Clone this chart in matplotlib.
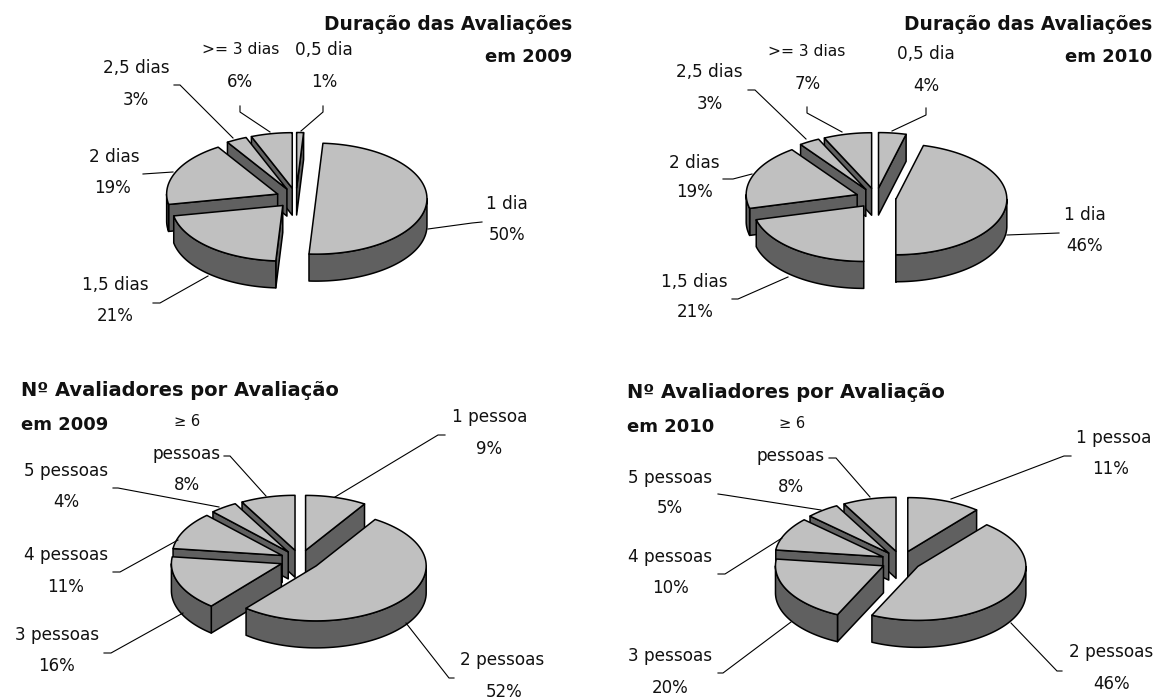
import matplotlib
matplotlib.use("Agg")
import matplotlib.pyplot as plt
import numpy as np

# chart values
dur_labels = ["0,5 dia", "1 dia", "1,5 dias", "2 dias", "2,5 dias", ">= 3 dias"]
dur_2009 = [1, 50, 21, 19, 3, 6]
dur_2010 = [4, 46, 21, 19, 3, 7]

ava_labels = ["1 pessoa", "2 pessoas", "3 pessoas", "4 pessoas", "5 pessoas", "pessoas"]
ava_2009 = [9, 52, 16, 11, 4, 8]
ava_2010 = [11, 46, 20, 10, 5, 8]

TOP = "#c0c0c0"
WALL = "#606060"
DEPTH, EXPLODE = 27, 20


def rim(cx, cy, rx, angles):
    # angles are clockwise from 12 o'clock, in radians
    return cx + rx * np.sin(angles), cy - rx / 2 * np.cos(angles)


def draw_wall(ax, x, y):
    xs = np.concatenate([x, x[::-1]])
    ys = np.concatenate([y, y[::-1] + DEPTH])
    ax.fill(xs, ys, facecolor=WALL, edgecolor="black", lw=1.1, joinstyle="round")


def pie3d(ax, values, cx, cy, rx):
    edges = np.radians(np.cumsum([0] + list(values)) * 360.0 / sum(values))
    slices = list(zip(edges[:-1], edges[1:]))
    # painter's order: back of the pie first
    slices.sort(key=lambda s: -abs((s[0] + s[1]) / 2 - np.pi))
    for a0, a1 in slices:
        mid = (a0 + a1) / 2
        px = cx + EXPLODE * np.sin(mid)
        py = cy - EXPLODE * np.cos(mid) / 2

        if np.sin(a0) < 0:
            x, y = rim(px, py, rx, np.array([a0]))
            draw_wall(ax, np.array([px, x[0]]), np.array([py, y[0]]))
        if np.sin(a1) > 0:
            x, y = rim(px, py, rx, np.array([a1]))
            draw_wall(ax, np.array([px, x[0]]), np.array([py, y[0]]))

        lo, hi = max(a0, np.pi / 2), min(a1, 3 * np.pi / 2)
        if hi > lo:
            x, y = rim(px, py, rx, np.linspace(lo, hi, 60))
            draw_wall(ax, x, y)

        x, y = rim(px, py, rx, np.linspace(a0, a1, 90))
        ax.fill(np.r_[px, x], np.r_[py, y], facecolor=TOP, edgecolor="black",
                lw=1.1, joinstyle="round")


def pct(values, i):
    return "%d%%" % values[i]


fig = plt.figure(figsize=(11.56, 6.99), dpi=100)
ax = fig.add_axes([0, 0, 1, 1])
ax.set_xlim(0, 1156)
ax.set_ylim(699, 0)
ax.axis("off")

pie3d(ax, dur_2009, 296, 198, 111)
pie3d(ax, dur_2010, 876, 198, 111)
pie3d(ax, ava_2009, 300, 560, 110)
pie3d(ax, ava_2010, 901, 561, 108)

# titles
for txt, x, y, ha, fs in [
    ("Duração das Avaliações", 572, 24, "right", 13.4), ("em 2009", 572, 57, "right", 13),
    ("Duração das Avaliações", 1152, 24, "right", 13.4), ("em 2010", 1152, 57, "right", 13),
    ("Nº Avaliadores por Avaliação", 21, 391, "left", 14), ("em 2009", 21, 425, "left", 13),
    ("Nº Avaliadores por Avaliação", 627, 393, "left", 14), ("em 2010", 627, 427, "left", 13),
]:
    ax.text(x, y, txt, ha=ha, va="center", fontsize=fs, fontweight="bold", color="#111111")

# label position per slice: name x, name y, value x, value y
dur_2009_pos = [(324, 50, 324, 82), (507, 204, 507, 235), (115, 285, 115, 316),
                (114, 157, 113, 188), (136, 68, 136, 100), (241, 50, 240, 82)]
dur_2010_pos = [(926, 54, 926, 86), (1085, 215, 1085, 246), (694, 282, 695, 312),
                (694, 163, 695, 192), (709, 72, 710, 104), (807, 52, 808, 84)]
ava_2009_pos = [(490, 417, 489, 449), (502, 660, 504, 692), (57, 635, 57, 666),
                (66, 555, 66, 587), (66, 471, 66, 502), (187, 454, 187, 485)]
ava_2010_pos = [(1114, 438, 1111, 469), (1111, 652, 1112, 684), (670, 656, 670, 688),
                (670, 557, 670, 588), (670, 478, 670, 508), (791, 456, 791, 487)]

for names, values, positions in [
    (dur_labels, dur_2009, dur_2009_pos), (dur_labels, dur_2010, dur_2010_pos),
    (ava_labels, ava_2009, ava_2009_pos), (ava_labels, ava_2010, ava_2010_pos),
]:
    for i, (nx, ny, vx, vy) in enumerate(positions):
        fs = 11.2 if names[i].startswith(">=") else 12.2
        ax.text(nx, ny, names[i], ha="center", va="center", fontsize=fs, color="#111111")
        ax.text(vx, vy, pct(values, i), ha="center", va="center", fontsize=12, color="#111111")

ax.text(187, 422, "≥ 6", ha="center", va="center", fontsize=10.5, color="#111111")
ax.text(792, 423, "≥ 6", ha="center", va="center", fontsize=10.5, color="#111111")

# leader lines
leaders = [
    [(240, 106), (240, 112), (270, 132)], [(323, 106), (323, 112), (301, 131)],
    [(174, 85), (180, 85), (233, 138)], [(143, 174), (173, 172)],
    [(482, 222), (472, 223), (428, 229)], [(153, 303), (160, 303), (208, 276)],
    [(807, 107), (807, 113), (842, 132)], [(926, 108), (926, 115), (892, 131)],
    [(748, 90), (755, 90), (806, 139)], [(723, 179), (733, 179), (752, 174)],
    [(1059, 233), (1007, 235)], [(732, 299), (738, 299), (788, 277)],
    [(224, 456), (230, 456), (266, 496)], [(445, 435), (438, 435), (335, 497)],
    [(113, 488), (118, 488), (219, 507)], [(113, 572), (120, 572), (178, 540)],
    [(104, 653), (111, 653), (183, 613)], [(454, 678), (449, 678), (406, 623)],
    [(829, 458), (836, 458), (870, 497)], [(1071, 456), (1064, 456), (951, 499)],
    [(718, 494), (725, 495), (821, 510)], [(718, 574), (725, 574), (782, 538)],
    [(718, 673), (723, 673), (791, 622)], [(1062, 671), (1057, 671), (1011, 623)],
]
for pts in leaders:
    xs, ys = zip(*pts)
    ax.plot(xs, ys, color="black", lw=0.8, solid_joinstyle="miter")

fig.savefig("out.png", dpi=100, facecolor="white")
